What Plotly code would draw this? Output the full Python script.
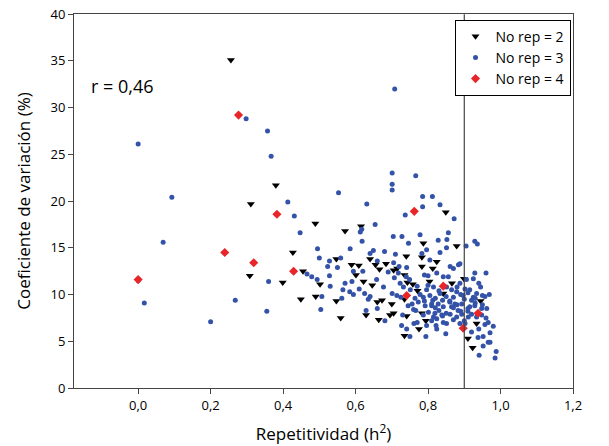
import plotly.graph_objects as go

# No rep = 2 (black triangles)
x_rep2 = [0.256, 0.38, 0.311, 0.489, 0.571, 0.615, 0.427, 0.308, 0.399, 0.455, 0.502, 0.449, 0.49,
          0.547, 0.547, 0.559, 0.589, 0.609, 0.601, 0.64, 0.655, 0.666, 0.684, 0.622, 0.646, 0.629,
          0.66, 0.673, 0.664, 0.695, 0.705, 0.7, 0.705, 0.715, 0.74, 0.735, 0.743, 0.758, 0.771,
          0.783, 0.783, 0.787, 0.804, 0.813, 0.824, 0.735, 0.741, 0.735, 0.775, 0.783, 0.794, 0.842,
          0.849, 0.879, 0.866, 0.899, 0.945, 0.934, 0.91, 0.923]
y_rep2 = [35.1, 21.7, 19.7, 17.6, 16.8, 17.3, 14.5, 12.0, 11.3, 12.5, 11.1, 9.5, 9.8,
          13.8, 9.3, 7.5, 13.2, 13.1, 12.1, 13.8, 13.2, 12.7, 13.3, 11.4, 11.0, 7.8,
          9.2, 9.4, 7.3, 7.8, 8.0, 9.0, 12.6, 12.8, 14.1, 12.1, 11.3, 11.1, 10.4,
          13.0, 14.0, 15.5, 11.4, 12.8, 13.5, 9.5, 7.7, 5.6, 6.3, 8.0, 7.2, 10.1,
          18.8, 15.2, 11.2, 11.7, 9.3, 6.9, 5.3, 4.3]

# No rep = 3 (blue dots)
x_rep3 = [0.708, 0.0, 0.298, 0.357, 0.367, 0.093, 0.069, 0.017, 0.0, 0.2, 0.268, 0.355, 0.36,
          0.413, 0.431, 0.447, 0.495, 0.466, 0.479, 0.494, 0.507, 0.504, 0.528, 0.523, 0.528,
          0.553, 0.559, 0.571, 0.565, 0.562, 0.584, 0.594, 0.585, 0.594, 0.613, 0.617, 0.618,
          0.631, 0.62, 0.625, 0.635, 0.629, 0.64, 0.649, 0.654, 0.658, 0.66, 0.677, 0.681,
          0.701, 0.701, 0.701, 0.766, 0.737, 0.785, 0.812, 0.785, 0.833, 0.872, 0.704, 0.728,
          0.778, 0.746, 0.705, 0.707, 0.701, 0.714, 0.725, 0.723, 0.749, 0.751, 0.745, 0.73,
          0.727, 0.75, 0.741, 0.761, 0.764, 0.773, 0.778, 0.787, 0.792, 0.794, 0.796, 0.801,
          0.805, 0.813, 0.815, 0.819, 0.822, 0.824, 0.828, 0.833, 0.838, 0.842, 0.849, 0.851,
          0.852, 0.828, 0.833, 0.856, 0.851, 0.861, 0.87, 0.884, 0.888, 0.856, 0.865, 0.87,
          0.874, 0.861, 0.879, 0.883, 0.888, 0.893, 0.897, 0.902, 0.906, 0.905, 0.911, 0.915,
          0.92, 0.925, 0.925, 0.929, 0.929, 0.936, 0.934, 0.938, 0.941, 0.945, 0.948, 0.952,
          0.952, 0.957, 0.96, 0.962, 0.966, 0.966, 0.969, 0.971, 0.98, 0.985, 0.988, 0.971,
          0.741, 0.783, 0.796, 0.805, 0.824, 0.842, 0.851, 0.81, 0.824, 0.893, 0.902, 0.91,
          0.929, 0.948, 0.957, 0.718, 0.732, 0.756, 0.766, 0.787, 0.796, 0.815, 0.842, 0.865,
          0.879, 0.888, 0.915, 0.934,
          0.76, 0.77, 0.79, 0.80, 0.81, 0.82, 0.83, 0.84, 0.85, 0.86, 0.87, 0.88, 0.89, 0.90,
          0.91, 0.92, 0.93, 0.94, 0.95, 0.96, 0.77, 0.79, 0.81, 0.83, 0.85, 0.87, 0.89, 0.91,
          0.93, 0.95, 0.80, 0.82, 0.84, 0.86, 0.88, 0.90, 0.92, 0.94, 0.72, 0.74, 0.69, 0.68,
          0.66, 0.71, 0.64, 0.59, 0.61, 0.55, 0.53, 0.50]
y_rep3 = [32.0, 26.1, 28.8, 27.5, 24.8, 20.4, 15.6, 9.1, 11.5, 7.1, 9.4, 8.2, 11.4,
          19.9, 18.4, 16.6, 14.9, 12.2, 11.9, 11.6, 9.8, 8.4, 13.6, 13.0, 12.0,
          20.9, 13.9, 11.2, 10.5, 9.6, 10.3, 10.0, 14.9, 12.5, 16.7, 17.0, 15.7,
          19.7, 12.5, 10.1, 9.5, 8.3, 14.4, 14.7, 17.5, 11.6, 8.5, 10.8, 7.2,
          23.0, 21.8, 21.2, 22.7, 18.5, 20.5, 20.5, 19.4, 19.6, 18.1, 16.2, 16.2,
          16.4, 15.5, 13.4, 11.8, 10.1, 9.9, 9.7, 11.2, 11.6, 10.5, 8.8, 7.8,
          6.7, 5.5, 6.3, 6.9, 9.6, 9.2, 10.0, 9.7, 8.8, 5.5, 10.5, 8.1,
          9.9, 9.4, 10.8, 8.0, 6.7, 6.3, 9.0, 10.1, 7.8, 8.7, 5.8, 6.9,
          15.9, 15.8, 14.5, 16.6, 15.0, 13.0, 12.8, 13.2, 13.3, 11.9, 10.5, 9.7,
          9.0, 7.9, 7.6, 8.3, 6.9, 9.0, 9.9, 10.6, 11.6, 15.2, 7.6, 8.7,
          6.0, 9.7, 11.7, 12.3, 15.7, 15.4, 7.6, 5.4, 3.5, 10.8, 8.5, 4.5,
          5.5, 6.8, 12.3, 8.5, 4.9, 7.0, 10.0, 5.9, 6.6, 3.2, 3.9, 4.9,
          12.9, 14.4, 14.8, 13.7, 12.3, 11.9, 10.8, 8.8, 7.4, 7.9, 6.9, 8.2,
          8.8, 7.8, 9.8, 12.3, 10.8, 9.0, 8.3, 7.8, 6.7, 7.6, 7.0, 8.7,
          10.3, 11.2, 10.5, 10.1,
          8.4, 10.9, 9.3, 11.0, 7.2, 9.6, 8.3, 9.4, 8.0, 9.2, 8.6, 10.8, 8.2, 9.5,
          10.2, 7.9, 9.1, 11.2, 9.9, 7.5, 7.0, 12.1, 9.0, 10.4, 9.8, 7.3, 10.0, 8.5,
          9.6, 8.9, 12.0, 8.6, 7.7, 9.3, 8.9, 7.2, 9.4, 6.3, 13.0, 11.9, 12.4, 14.6,
          13.6, 14.3, 9.8, 11.4, 10.6, 12.9, 10.9, 13.9]

# No rep = 4 (red diamonds)
x_rep4 = [0.0, 0.277, 0.383, 0.239, 0.319, 0.429, 0.741, 0.762, 0.842, 0.897, 0.938]
y_rep4 = [11.6, 29.2, 18.6, 14.5, 13.4, 12.5, 9.9, 18.9, 10.9, 6.4, 8.0]

x_ticks = [0, 0.2, 0.4, 0.6, 0.8, 1.0, 1.2]
x_labels = ["0,0", "0,2", "0,4", "0,6", "0,8", "1,0", "1,2"]
y_ticks = [0, 5, 10, 15, 20, 25, 30, 35, 40]

fig = go.Figure()
fig.add_trace(go.Scatter(x=x_rep2, y=y_rep2, mode="markers", name="No rep = 2",
                         marker=dict(symbol="triangle-down", size=7, color="black")))
fig.add_trace(go.Scatter(x=x_rep3, y=y_rep3, mode="markers", name="No rep = 3",
                         marker=dict(symbol="circle", size=5, color="#3352a8")))
fig.add_trace(go.Scatter(x=x_rep4, y=y_rep4, mode="markers", name="No rep = 4",
                         marker=dict(symbol="diamond", size=7, color="#e8262a")))

# vertical reference line at h2 = 0.9
fig.add_shape(type="line", x0=0.9, x1=0.9, y0=0, y1=40, xref="x", yref="y",
              line=dict(color="#444", width=1.2))

fig.add_annotation(x=0.03, y=0.845, xref="paper", yref="paper", text="r = 0,46",
                   showarrow=False, xanchor="left", font=dict(size=18, color="black"))

fig.update_layout(
    width=609, height=446,
    margin=dict(l=66, r=44, t=6, b=66),
    plot_bgcolor="white", paper_bgcolor="white",
    font=dict(family="Open Sans, Liberation Sans, sans-serif", color="black"),
    showlegend=True,
    legend=dict(x=0.995, y=0.985, xanchor="right", yanchor="top",
                bordercolor="black", borderwidth=1, bgcolor="white",
                font=dict(size=14)),
    xaxis=dict(range=[-0.177, 1.2], tickvals=x_ticks, ticktext=x_labels,
               showgrid=False, zeroline=False, showline=True, linecolor="#444",
               mirror=True, ticks="outside", ticklen=5, tickfont=dict(size=13),
               automargin=False,
               title=dict(text="Repetitividad (h<sup>2</sup>)", font=dict(size=17))),
    yaxis=dict(range=[0, 40.02], tickvals=y_ticks, showgrid=False, zeroline=False,
               showline=True, linecolor="#444", mirror=True, ticks="outside",
               ticklen=5, tickfont=dict(size=13), ticklabeloverflow="allow",
               automargin=False,
               title=dict(text="Coeficiente de variación (%)", font=dict(size=17))),
)

fig.write_html("out.html")
